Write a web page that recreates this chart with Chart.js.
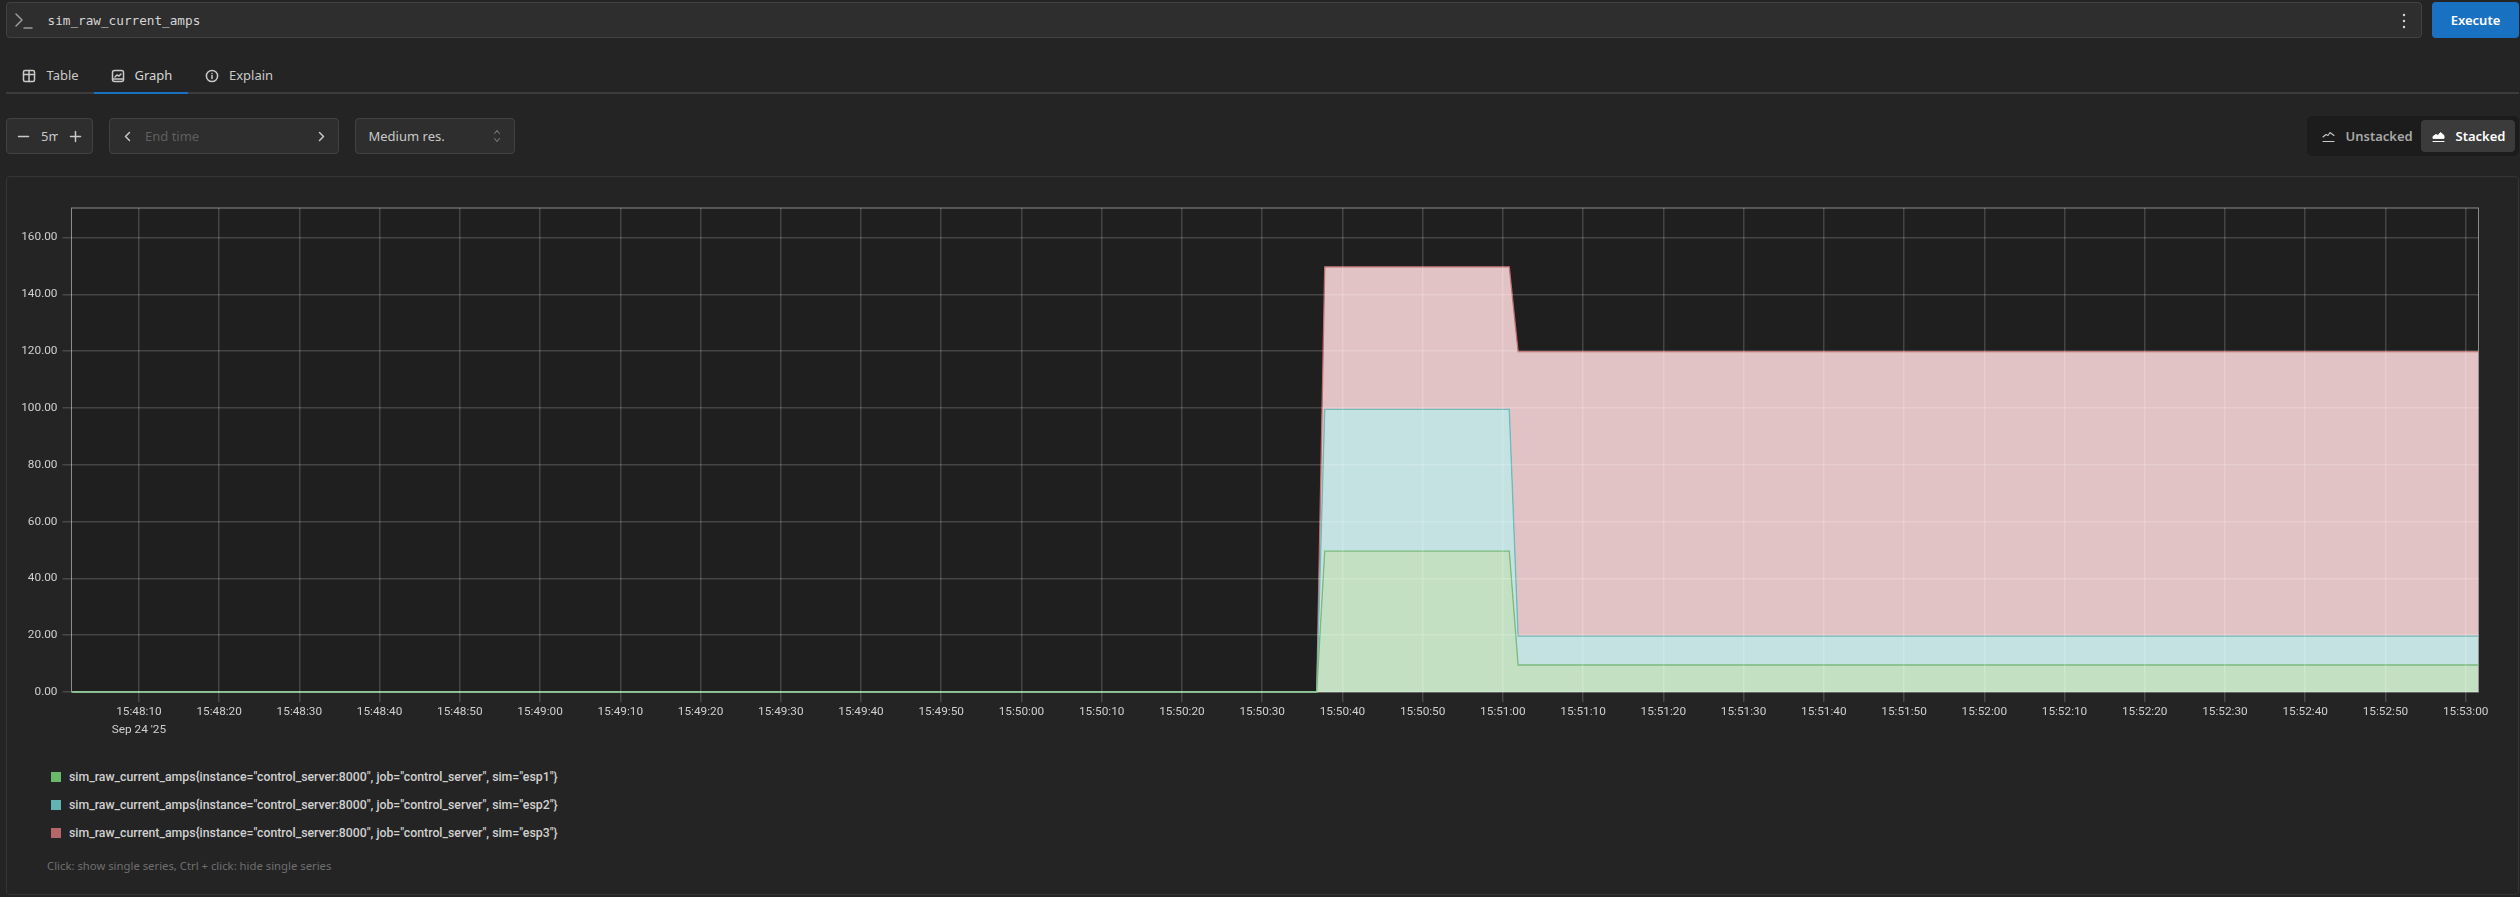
<!DOCTYPE html>
<html>
<head>
<meta charset="utf-8">
<title>sim_raw_current_amps</title>
<script src="https://cdn.jsdelivr.net/npm/chart.js@4"></script>
<style>
    * { box-sizing: border-box; }
    html, body { margin: 0; width: 2520px; height: 897px; overflow: hidden; background: #242424; }
    body { font-family: "Noto Sans", sans-serif; font-size: 13px; color: #c9c9c9; position: relative; }
    .abs { position: absolute; }
    .box { position: absolute; background: #2e2e2e; border: 1.5px solid #424242; border-radius: 4px; }
    .txt { position: absolute; white-space: nowrap; line-height: 18px; }
    svg { position: absolute; fill: none; stroke: currentColor; stroke-width: 1.5; stroke-linecap: round; stroke-linejoin: round; }
    #chart-wrap { position: absolute; left: 0; top: 200px; width: 2520px; height: 550px; }
    .legend-row { position: absolute; left: 51px; height: 18px; }
    .legend-row i { position: absolute; left: 0; top: 4px; width: 10px; height: 10px; }
    .legend-row span { position: absolute; left: 18px; top: 0; white-space: nowrap; line-height: 18px; font-family: Roboto, sans-serif; font-size: 12.3px; font-weight: 500; color: #d0d0d0; }
</style>
</head>
<body>
    <!-- Query bar -->
    <div class="box" style="left:6px;top:2px;width:2416px;height:36px;"></div>
    <svg style="left:13px;top:11px;color:#9a9a9a" width="22" height="20" viewBox="0 0 22 20"><path d="M3 3l6 6-6 6M11 17h8"/></svg>
    <div class="txt" style="left:47.5px;top:12px;font-family:'DejaVu Sans Mono',monospace;font-size:12.7px;color:#d5d5d5">sim_raw_current_amps</div>
    <svg style="left:2398px;top:12px;color:#d5d5d5" width="12" height="18" viewBox="0 0 12 18"><path d="M6 3v.1M6 9v.1M6 15v.1" stroke-width="2.4"/></svg>
    <div class="abs" style="left:2432px;top:2px;width:87px;height:36px;background:#1971c2;border-radius:4px;"></div>
    <div class="txt" style="left:2432px;top:11px;width:87px;text-align:center;color:#fff;font-weight:600">Execute</div>

    <!-- Tabs -->
    <div class="abs" style="left:6px;top:92px;width:2513px;height:2px;background:#3c3c3c"></div>
    <div class="abs" style="left:94px;top:92px;width:94px;height:2px;background:#1971c2"></div>
    <svg style="left:22px;top:69px" width="14" height="14" viewBox="0 0 14 14"><rect x="1.5" y="1.5" width="11" height="11" rx="1.5"/><path d="M1.5 5.5h11M7 1.5v11"/></svg>
    <div class="txt" style="left:46.5px;top:66px;">Table</div>
    <svg style="left:111px;top:69px" width="14" height="14" viewBox="0 0 14 14"><rect x="1.5" y="1.5" width="11" height="11" rx="2"/><path d="M4 8l2-2 2 1 2-2M1.5 10h11"/></svg>
    <div class="txt" style="left:134.5px;top:66px;color:#d5d5d5">Graph</div>
    <svg style="left:205px;top:69px" width="14" height="14" viewBox="0 0 14 14"><circle cx="7" cy="7" r="5.6"/><path d="M7 6.5v3M7 4.4v.1"/></svg>
    <div class="txt" style="left:229px;top:66px;">Explain</div>

    <!-- Range controls -->
    <div class="box" style="left:6px;top:118px;width:87px;height:36px;"></div>
    <svg style="left:17px;top:130px" width="13" height="13" viewBox="0 0 13 13"><path d="M1.5 6.5h10"/></svg>
    <div class="txt" style="left:41px;top:127px;width:16.5px;overflow:hidden;">5m</div>
    <svg style="left:69px;top:130px" width="13" height="13" viewBox="0 0 13 13"><path d="M1.5 6.5h10M6.5 1.5v10"/></svg>

    <div class="box" style="left:109px;top:118px;width:230px;height:36px;"></div>
    <svg style="left:122px;top:130px" width="11" height="13" viewBox="0 0 11 13"><path d="M7.5 2.5l-4 4 4 4"/></svg>
    <div class="txt" style="left:145px;top:127px;color:#5f5f5f">End time</div>
    <svg style="left:316px;top:130px" width="11" height="13" viewBox="0 0 11 13"><path d="M3.5 2.5l4 4-4 4"/></svg>

    <div class="box" style="left:355px;top:118px;width:160px;height:36px;"></div>
    <div class="txt" style="left:368.5px;top:127px;">Medium res.</div>
    <svg style="left:491px;top:128px;color:#777;stroke-width:1.1" width="12" height="16" viewBox="0 0 12 16"><path d="M3.5 5.5l2.5-3 2.5 3M3.5 10.5l2.5 3 2.5-3"/></svg>

    <!-- Stacked toggle -->
    <div class="abs" style="left:2307px;top:116px;width:212px;height:40px;background:#1c1c1c;border-radius:5px;"></div>
    <div class="abs" style="left:2421px;top:120px;width:94px;height:32px;background:#3b3b3b;border-radius:4px;"></div>
    <svg style="left:2322px;top:130px;stroke-width:1.1" width="13" height="13" viewBox="0 0 13 13"><path d="M1 7l3-2.5 2 1 2-3 4 3M1 11.5h11"/></svg>
    <div class="txt" style="left:2345.5px;top:127px;color:#a8a8a8;font-weight:600">Unstacked</div>
    <svg style="left:2432px;top:130px;color:#fff;fill:#fff;stroke-width:1" width="13" height="13" viewBox="0 0 13 13"><path d="M1 8V6.5l3-2 2 1 2.500-3 3.500 3v2.500zM1 11.500h11"/></svg>
    <div class="txt" style="left:2455.500px;top:127px;color:#fff;font-weight:600">Stacked</div>

    <!-- Graph panel -->
    <div class="abs" style="left:6px;top:176px;width:2513px;height:719px;border:1.5px solid #353535;border-radius:4px;"></div>
    <div id="chart-wrap"><canvas id="mainChart"></canvas></div>
    <div id="legend"></div>
    <div class="txt" style="left:47px;top:857px;font-size:11.3px;color:#6f6f6f">Click: show single series, Ctrl + click: hide single series</div>

<script>
// --- Data ---
const sampleTimes = ['15:48:01.7', '15:50:36.8', '15:50:37.8', '15:51:00.8', '15:51:01.9', '15:53:01.6'];
const esp1Values = [0, 0, 49.6, 49.6, 9.5, 9.5];
const esp2Values = [0, 0, 49.9, 49.9, 10.2, 10.2];
const esp3Values = [0, 0, 50.2, 50.2, 100.1, 100.1];

const seriesNames = [
    'sim_raw_current_amps{instance="control_server:8000", job="control_server", sim="esp1"}',
    'sim_raw_current_amps{instance="control_server:8000", job="control_server", sim="esp2"}',
    'sim_raw_current_amps{instance="control_server:8000", job="control_server", sim="esp3"}'
];

const xTickLabels = [
    '15:48:10', '15:48:20', '15:48:30', '15:48:40', '15:48:50', '15:49:00', '15:49:10', '15:49:20', '15:49:30',
    '15:49:40', '15:49:50', '15:50:00', '15:50:10', '15:50:20', '15:50:30', '15:50:40', '15:50:50', '15:51:00',
    '15:51:10', '15:51:20', '15:51:30', '15:51:40', '15:51:50', '15:52:00', '15:52:10', '15:52:20', '15:52:30',
    '15:52:40', '15:52:50', '15:53:00'
];
const dateLabel = "Sep 24 '25";
const yTickValues = [0, 20, 40, 60, 80, 100, 120, 140, 160];

// --- Configuration ---
const CONFIG = {
    xMin: '15:48:01.6',
    xMax: '15:53:01.6',
    yMax: 170.4,
    lineColors: ['#7cbb7c', '#72baba', '#bb6e6e'],
    fillColors: ['#c3e1c2', '#c4e2e2', '#e2c3c5'],
    legendColors: ['#6ab96a', '#62b3b3', '#b5666a'],
    gridColor: 'rgba(255,255,255,0.17)',
    tickFont: { family: 'Roboto, sans-serif', size: 11.8, lineHeight: 1.55 }
};

function clockToSeconds(text) {
    const parts = text.split(':');
    return parseInt(parts[0]) * 3600 + parseInt(parts[1]) * 60 + parseFloat(parts[2]);
}

const sampleSeconds = sampleTimes.map(clockToSeconds);

function buildDataset(index, values) {
    return {
        label: seriesNames[index],
        data: values.map((v, i) => ({ x: sampleSeconds[i], y: v })),
        borderColor: CONFIG.lineColors[index],
        backgroundColor: CONFIG.fillColors[index],
        borderWidth: 1.3,
        pointRadius: 0,
        tension: 0,
        clip: 2, // keep the whole line visible along the zero baseline
        fill: index === 0 ? 'origin' : '-1'
    };
}

// Plot background and frame, under the series as in the original
const plotFrame = {
    id: 'plotFrame',
    beforeDatasetsDraw(chart) {
        const { ctx, chartArea: a } = chart;
        ctx.save();
        ctx.fillStyle = '#1f1f1f';
        ctx.fillRect(a.left, a.top, a.width, a.height);
        ctx.strokeStyle = '#8c8c8c';
        ctx.lineWidth = 1;
        ctx.strokeRect(a.left, a.top, a.width, a.height);
        ctx.restore();
    }
};

const chart = new Chart(document.getElementById('mainChart'), {
    type: 'line',
    data: {
        datasets: [
            buildDataset(0, esp1Values),
            buildDataset(1, esp2Values),
            buildDataset(2, esp3Values)
        ]
    },
    plugins: [plotFrame],
    options: {
        responsive: true,
        maintainAspectRatio: false,
        animation: false,
        layout: { padding: { top: 8, right: 41.5, bottom: 0, left: 0 } },
        plugins: { legend: { display: false }, tooltip: { enabled: false } },
        scales: {
            x: {
                type: 'linear',
                min: clockToSeconds(CONFIG.xMin),
                max: clockToSeconds(CONFIG.xMax),
                afterBuildTicks(scale) {
                    scale.ticks = xTickLabels.map(t => ({ value: clockToSeconds(t) }));
                },
                afterFit(scale) {
                    scale.height = 58;
                    scale.paddingLeft = 0;
                    scale.paddingRight = 0;
                },
                grid: { color: CONFIG.gridColor, lineWidth: 1.5, tickLength: 10, z: 1 },
                border: { display: false },
                ticks: {
                    color: '#cfcfcf',
                    font: CONFIG.tickFont,
                    padding: 1,
                    maxRotation: 0,
                    autoSkip: false,
                    callback(value, index) {
                        return index === 0 ? [xTickLabels[index], dateLabel] : xTickLabels[index];
                    }
                }
            },
            y: {
                stacked: true,
                min: 0,
                max: CONFIG.yMax,
                afterBuildTicks(scale) {
                    scale.ticks = yTickValues.map(v => ({ value: v }));
                },
                afterFit(scale) {
                    scale.width = 71.5;
                    scale.paddingTop = 0;
                    scale.paddingBottom = 0;
                },
                grid: { color: CONFIG.gridColor, lineWidth: 1.5, tickLength: 9, z: 1 },
                border: { display: false },
                ticks: {
                    color: '#cfcfcf',
                    font: CONFIG.tickFont,
                    padding: 5,
                    callback: value => value.toFixed(2)
                }
            }
        }
    }
});

// --- Legend ---
const legendEl = document.getElementById('legend');
const legendTops = [768, 796, 824];
chart.data.datasets.forEach((ds, i) => {
    const row = document.createElement('div');
    row.className = 'legend-row';
    row.style.top = legendTops[i] + 'px';
    row.innerHTML = `<i style="background:${CONFIG.legendColors[i]}"></i><span></span>`;
    row.querySelector('span').textContent = ds.label;
    legendEl.appendChild(row);
});
</script>
</body>
</html>
